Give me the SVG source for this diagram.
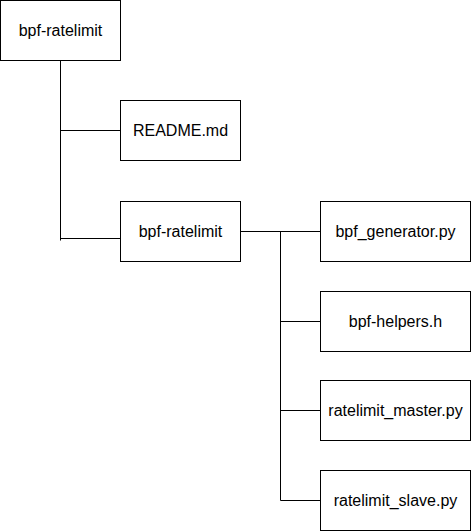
<svg xmlns="http://www.w3.org/2000/svg" width="471" height="531" viewBox="0 0 471 531">
<style>
.box{fill:#fff;stroke:#000;stroke-width:1}
.lbl{font-family:"Liberation Sans",Arial,sans-serif;font-size:16px;fill:#000;text-anchor:middle}
.conn{fill:none;stroke:#000;stroke-width:1}
</style>
<rect width="471" height="531" fill="#fff"/>
<g id="connectors">
<path class="conn" d="M60.5 60.5 V240.5"/>
<path class="conn" d="M60.5 130.5 H120.5"/>
<path class="conn" d="M60.5 238.5 H120.5"/>
<path class="conn" d="M240.5 231.5 H320.5"/>
<path class="conn" d="M280.5 231.5 V500.5 H320.5"/>
<path class="conn" d="M280.5 321.5 H320.5"/>
<path class="conn" d="M280.5 410.5 H320.5"/>
</g>
<g id="root"><rect class="box" x="0.5" y="0.5" width="120" height="60"/><text class="lbl" x="60.5" y="36">bpf-ratelimit</text></g>
<g id="readme"><rect class="box" x="120.5" y="100.5" width="120" height="60"/><text class="lbl" x="180.5" y="136">README.md</text></g>
<g id="subdir"><rect class="box" x="120.5" y="201.5" width="120" height="60"/><text class="lbl" x="180.5" y="237">bpf-ratelimit</text></g>
<g id="generator"><rect class="box" x="320.5" y="201.5" width="150" height="60"/><text class="lbl" x="395.5" y="237">bpf_generator.py</text></g>
<g id="helpers"><rect class="box" x="320.5" y="291.5" width="150" height="60"/><text class="lbl" x="395.5" y="327">bpf-helpers.h</text></g>
<g id="master"><rect class="box" x="320.5" y="380.5" width="150" height="60"/><text class="lbl" x="395.5" y="416">ratelimit_master.py</text></g>
<g id="slave"><rect class="box" x="320.5" y="470.5" width="150" height="60"/><text class="lbl" x="395.5" y="506">ratelimit_slave.py</text></g>
</svg>
